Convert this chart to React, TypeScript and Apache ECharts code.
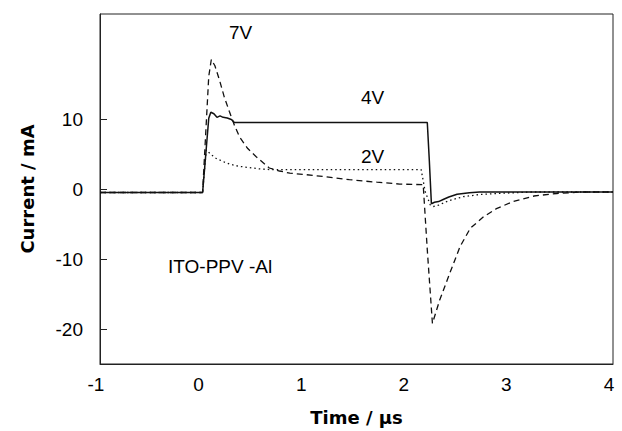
import React, { useEffect, useRef } from "react";
import * as echarts from "echarts";

// [time (µs), current (mA)]
const series4V: [number, number][] = [
  [-1, -0.5], [0, -0.5], [0.02, 3], [0.06, 10.1], [0.08, 10.96], [0.11, 10.75],
  [0.14, 10.24], [0.17, 10.44], [0.2, 10.24], [0.24, 10.15], [0.28, 9.93], [0.31, 9.5],
  [2.19, 9.5], [2.21, 4], [2.23, -2.1], [2.26, -1.9], [2.3, -1.8], [2.35, -1.47],
  [2.4, -1.15], [2.48, -0.74], [2.6, -0.53], [2.7, -0.43], [4, -0.43],
];
const series2V: [number, number][] = [
  [-1, -0.5], [0, -0.5], [0.02, 3], [0.036, 5.58], [0.08, 4.96], [0.13, 4.39],
  [0.2, 3.92], [0.26, 3.57], [0.35, 3.25], [0.46, 3.05], [0.55, 2.88], [0.65, 2.78],
  [2.13, 2.78], [2.17, -0.4], [2.22, -2.3], [2.25, -2.5], [2.3, -2.3], [2.4, -1.67],
  [2.54, -1.1], [2.7, -0.79], [2.87, -0.64], [3.2, -0.43], [4, -0.43],
];
const series7V: [number, number][] = [
  [-1, -0.5], [0, -0.5], [0.03, 7.86], [0.06, 16.1], [0.085, 18.5], [0.12, 17.6],
  [0.166, 15.5], [0.21, 13.2], [0.26, 11.1], [0.31, 9.1], [0.36, 7.44], [0.44, 5.78],
  [0.52, 4.64], [0.65, 3.0], [0.75, 2.57], [0.85, 2.26], [1.0, 2.06], [1.2, 1.75],
  [1.43, 1.33], [1.7, 0.97], [1.92, 0.71], [2.15, 0.61], [2.19, -8.7], [2.24, -19.2],
  [2.31, -15.9], [2.41, -12.0], [2.51, -8.2], [2.61, -5.6], [2.74, -3.95],
  [2.87, -2.76], [3.03, -1.78], [3.23, -1.0], [3.45, -0.64], [3.7, -0.43], [4, -0.43],
];
const xTicks = [-1, 0, 1, 2, 3, 4];
const yTicks = [-20, -10, 0, 10];

const FONT = "'Liberation Sans', Arial, sans-serif";
const BOLD_FONT = "'DejaVu Sans', 'Liberation Sans', sans-serif";

export default function App() {
  const ref = useRef<HTMLDivElement>(null);
  useEffect(() => {
    if (!ref.current) return;
    const chart = echarts.init(ref.current, undefined, { renderer: "svg" });
    chart.setOption({
      animation: false,
      backgroundColor: "#fff",
      grid: {
        left: 100, right: 9, top: 14, bottom: 67,
        show: true, borderColor: "#222", borderWidth: 1,
      },
      xAxis: {
        type: "value", min: -1, max: 4, interval: 1,
        axisLine: { show: true, onZero: false, lineStyle: { color: "#222" } },
        axisTick: { show: false },
        splitLine: { show: false },
        axisLabel: {
          customValues: xTicks, color: "#000", fontSize: 19, fontFamily: FONT,
          margin: 11, padding: [0, 8, 0, 0],
        },
        name: "Time / µs", nameLocation: "middle", nameGap: 44,
        nameTextStyle: { color: "#000", fontSize: 18, fontWeight: "bold", fontFamily: BOLD_FONT },
      },
      yAxis: {
        type: "value", min: -25, max: 25, interval: 5,
        axisLine: { show: true, onZero: false, lineStyle: { color: "#222" } },
        axisTick: { show: true, inside: true, customValues: yTicks, length: 7, lineStyle: { color: "#222" } },
        splitLine: { show: false },
        axisLabel: { customValues: yTicks, color: "#000", fontSize: 19, fontFamily: FONT, margin: 17 },
        name: "Current / mA", nameLocation: "middle", nameGap: 64,
        nameTextStyle: { color: "#000", fontSize: 18, fontWeight: "bold", fontFamily: BOLD_FONT },
      },
      series: [
        {
          name: "7V", type: "line", data: series7V, symbol: "none",
          lineStyle: { color: "#111", width: 1.3, type: [6, 4] },
        },
        {
          name: "2V", type: "line", data: series2V, symbol: "none",
          lineStyle: { color: "#111", width: 1.3, type: [1.5, 3] },
        },
        {
          name: "4V", type: "line", data: series4V, symbol: "none",
          lineStyle: { color: "#111", width: 1.5, type: "solid" },
        },
      ],
      graphic: [
        { type: "text", left: 229, top: 23, style: { text: "7V", fontSize: 19, fontFamily: FONT, fill: "#000" } },
        { type: "text", left: 361, top: 88, style: { text: "4V", fontSize: 19, fontFamily: FONT, fill: "#000" } },
        { type: "text", left: 361, top: 147, style: { text: "2V", fontSize: 19, fontFamily: FONT, fill: "#000" } },
        { type: "text", left: 168, top: 257, style: { text: "ITO-PPV -Al", fontSize: 19, fontFamily: FONT, fill: "#000" } },
      ],
    });
    return () => chart.dispose();
  }, []);
  return <div ref={ref} style={{ width: 622, height: 431, position: "absolute", left: 0, top: 0 }} />;
}
